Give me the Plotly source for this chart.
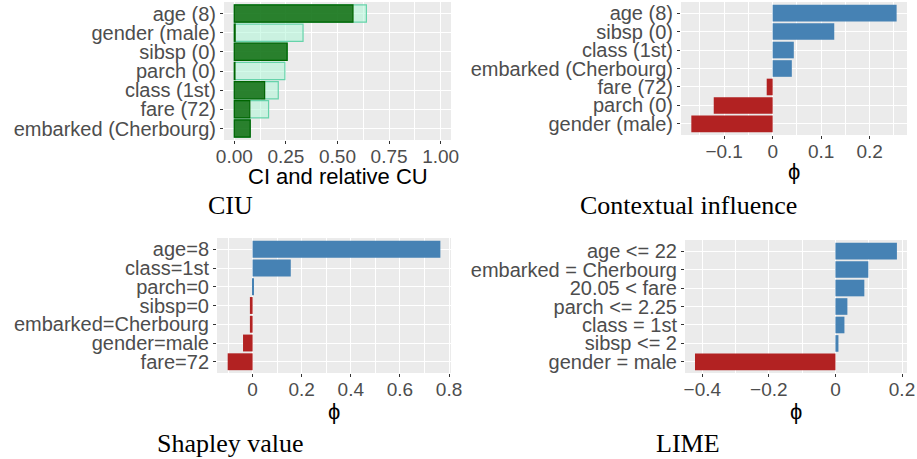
import plotly.graph_objects as go

# ---- data ----
ciu_labels = ["age (8)", "gender (male)", "sibsp (0)", "parch (0)", "class (1st)", "fare (72)", "embarked (Cherbourg)"]
ciu_ci = [0.64, 0.333, 0.256, 0.245, 0.213, 0.166, 0.077]
ciu_cu = [0.575, 0.004, 0.256, 0.003, 0.147, 0.075, 0.077]

ctx_labels = ["age (8)", "sibsp (0)", "class (1st)", "embarked (Cherbourg)", "fare (72)", "parch (0)", "gender (male)"]
ctx_vals = [0.2556, 0.127, 0.0436, 0.0395, -0.0123, -0.1215, -0.1677]

shap_labels = ["age=8", "class=1st", "parch=0", "sibsp=0", "embarked=Cherbourg", "gender=male", "fare=72"]
shap_vals = [0.7647, 0.1555, 0.003, -0.011, -0.011, -0.039, -0.1015]

lime_labels = ["age <= 22", "embarked = Cherbourg", "20.05 < fare", "parch <= 2.25", "class = 1st", "sibsp <= 2", "gender = male"]
lime_vals = [0.1847, 0.0988, 0.0868, 0.0359, 0.027, 0.009, -0.422]

captions = ["CIU", "Contextual influence", "Shapley value", "LIME"]
axis_titles = ["CI and relative CU", "ϕ", "ϕ", "ϕ"]

POS = "#4682B4"
NEG = "#B22222"
W, H = 917, 459

def dom_x(a, b):
    return [a / W, b / W]

def dom_y(top, bot):
    return [1 - bot / H, 1 - top / H]

fig = go.Figure()

# CIU panel
fig.add_trace(go.Bar(y=ciu_labels, x=ciu_ci, orientation="h", width=0.9,
                     marker=dict(color="rgba(175,245,215,0.55)", line=dict(color="#66D3AA", width=1.2)),
                     xaxis="x", yaxis="y", showlegend=False))
fig.add_trace(go.Bar(y=ciu_labels, x=ciu_cu, orientation="h", width=0.9,
                     marker=dict(color="rgba(0,100,0,0.8)", line=dict(color="#006400", width=1.2)),
                     xaxis="x", yaxis="y", showlegend=False))

def colors(vals):
    return [POS if v >= 0 else NEG for v in vals]

fig.add_trace(go.Bar(y=ctx_labels, x=ctx_vals, orientation="h", width=0.9,
                     marker=dict(color=colors(ctx_vals), line=dict(width=0)),
                     xaxis="x2", yaxis="y2", showlegend=False))
fig.add_trace(go.Bar(y=shap_labels, x=shap_vals, orientation="h", width=0.9,
                     marker=dict(color=colors(shap_vals), line=dict(width=0)),
                     xaxis="x3", yaxis="y3", showlegend=False))
fig.add_trace(go.Bar(y=lime_labels, x=lime_vals, orientation="h", width=0.9,
                     marker=dict(color=colors(lime_vals), line=dict(width=0)),
                     xaxis="x4", yaxis="y4", showlegend=False))

YTICKFONT = dict(family="Liberation Sans, Arial, sans-serif", size=20, color="#4D4D4D")
XTICKFONT = dict(family="Liberation Sans, Arial, sans-serif", size=19, color="#4D4D4D")
TITLEFONT = dict(family="Liberation Sans, Arial, sans-serif", size=22, color="black")

def xaxis(domain, anchor, rng, minor_dtick, tickvals, ticktext):
    return dict(domain=domain, anchor=anchor, range=rng, showgrid=True, gridcolor="white", gridwidth=1.3,
                zeroline=False, ticks="outside", ticklen=3, tickcolor="#333333", tickwidth=1,
                tickfont=XTICKFONT, showline=False, fixedrange=True, automargin=False,
                ticklabelstandoff=-4,
                tickmode="array", tickvals=tickvals, ticktext=ticktext,
                minor=dict(showgrid=True, gridcolor="white", gridwidth=0.6, dtick=minor_dtick, tick0=0, ticks=""))

def yaxis(domain, anchor, labels):
    return dict(domain=domain, anchor=anchor, categoryorder="array", categoryarray=labels[::-1],
                range=[-0.6, len(labels) - 0.4], showgrid=True, gridcolor="white", gridwidth=1.3,
                ticks="outside", ticklen=3, tickcolor="#333333", tickfont=YTICKFONT,
                tickmode="array", tickvals=labels, ticktext=labels, automargin=False,
                zeroline=False, fixedrange=True)

fig.update_layout(
    width=W, height=H, margin=dict(l=0, r=0, t=0, b=0, autoexpand=False),
    paper_bgcolor="white", plot_bgcolor="#EBEBEB", barmode="overlay", bargap=0.1,
    xaxis=xaxis(dom_x(224, 451), "y", [-0.05, 1.05], 0.125,
                [0, 0.25, 0.5, 0.75, 1.0], ["0.00", "0.25", "0.50", "0.75", "1.00"]),
    yaxis=yaxis(dom_y(2, 140), "x", ciu_labels),
    xaxis2=xaxis(dom_x(681, 907), "y2", [-0.189, 0.277], 0.05,
                 [-0.1, 0, 0.1, 0.2], ["\u22120.1", "0", "0.1", "0.2"]),
    yaxis2=yaxis(dom_y(2, 135), "x2", ctx_labels),
    xaxis3=xaxis(dom_x(217, 451), "y3", [-0.145, 0.808], 0.1,
                 [0, 0.2, 0.4, 0.6, 0.8], ["0", "0.2", "0.4", "0.6", "0.8"]),
    yaxis3=yaxis(dom_y(238, 373), "x3", shap_labels),
    xaxis4=xaxis(dom_x(685, 907), "y4", [-0.452, 0.215], 0.1,
                 [-0.4, -0.2, 0, 0.2], ["\u22120.4", "\u22120.2", "0", "0.2"]),
    yaxis4=yaxis(dom_y(240, 373), "x4", lime_labels),
)

title_pos = [(337.5, 176), (794, 172), (334, 411), (796, 411)]
for text, (cx, cy) in zip(axis_titles, title_pos):
    fig.add_annotation(text=text, x=cx / W, y=1 - cy / H, xref="paper", yref="paper",
                       showarrow=False, xanchor="center", yanchor="middle", font=TITLEFONT)

cap_font = dict(family="Liberation Serif, Times New Roman, serif", size=26, color="black")
cap_pos = [(230, 205), (688, 205), (230, 443), (688, 443)]
for text, (cx, cy) in zip(captions, cap_pos):
    fig.add_annotation(text=text, x=cx / W, y=1 - cy / H, xref="paper", yref="paper",
                       showarrow=False, xanchor="center", yanchor="middle", font=cap_font)

fig.write_html("out.html", config={"displayModeBar": False},
               post_script="document.body.style.margin='0px';document.body.style.overflow='hidden';")
